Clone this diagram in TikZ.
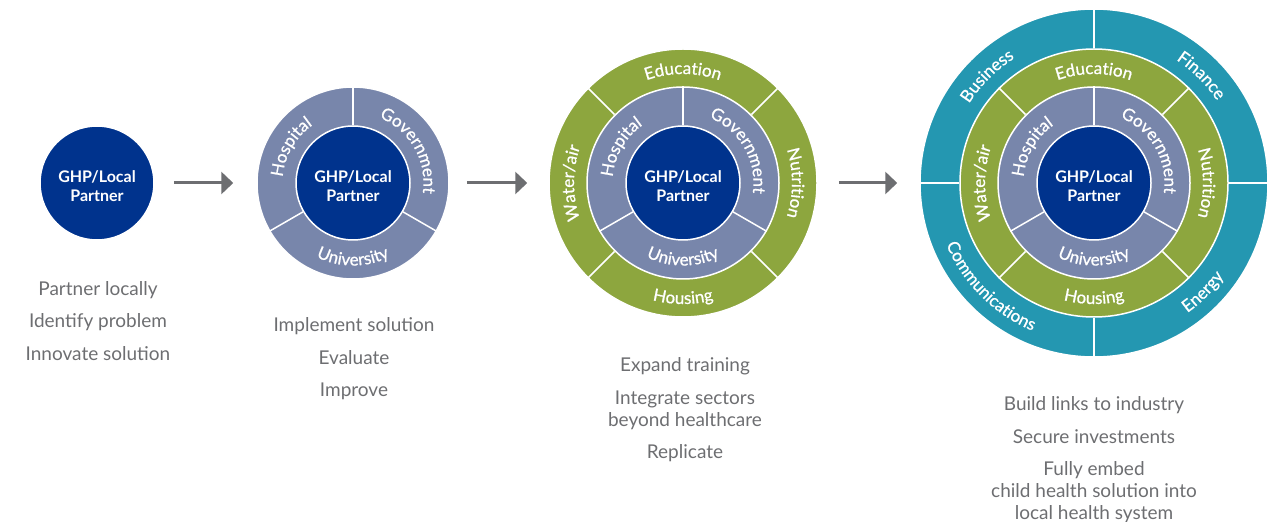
\documentclass[tikz,border=0pt]{standalone}
\usepackage{fontspec}
\setmainfont{Lato}
\newfontfamily\ringface{Lato}[FakeBold=0.8]
\usepackage{xcolor}
\usetikzlibrary{
		calc,
		positioning,
		arrows.meta,
		decorations.text
	}
\definecolor{ghpNavy}{HTML}{00338D}
\definecolor{ghpSlate}{HTML}{7886AB}
\definecolor{ghpGreen}{HTML}{8DA63E}
\definecolor{ghpTeal}{HTML}{2497B1}
\definecolor{ghpGray}{HTML}{6D6E71}
\newcommand{\ringfont}{\ringface\fontsize{17}{17}\selectfont}
\tikzset{
		hubtext/.style={text=white, align=center, yshift=-3pt, font=\bfseries\fontsize{16}{19}\selectfont},
		hub/.style={circle, fill=ghpNavy, draw=white, line width=1.5pt, minimum size=114pt, inner sep=0pt, label={[hubtext]center:{GHP/Local\\Partner}}},
		ring/.style={circle, draw=white, line width=1.5pt, minimum size=#1, inner sep=0pt},
		divider/.style={white, line width=1.5pt},
		flow/.style={ghpGray, line width=3pt, -{Triangle[length=12pt,width=22pt]}},
		steps/.style={text=ghpGray, align=center, anchor=north, inner sep=0pt, font=\fontsize{19}{22}\selectfont},
		arclabel/.style={decorate, decoration={text along path, text align=center, text color=white, text={|\ringfont|#1}}}
	}

\begin{document}
\begin{tikzpicture}[x=1pt, y=1pt]
		\useasboundingbox (0,0) rectangle (1277,522);
		% Stage 1
		\node[hub] (h1) at (97,339) {};
		% Stage 2
		\node[ring=192pt, fill=ghpSlate] (s2) at (353,339) {};
		\node[hub] (h2) at (353,339) {};
		\foreach \a in {90,210,330} {
			\draw[divider] (h2.\a) -- (s2.\a);
		}
		% Stage 3
		\node[ring=268pt, fill=ghpGreen] (g3) at (683,339) {};
		\node[ring=192pt, fill=ghpSlate] (s3) at (683,339) {};
		\node[hub] (h3) at (683,339) {};
		\foreach \a in {90,210,330} {
			\draw[divider] (h3.\a) -- (s3.\a);
		}
		\foreach \a in {45,135,225,315} {
			\draw[divider] (s3.\a) -- (g3.\a);
		}
		% Stage 4
		\node[ring=348pt, fill=ghpTeal] (t4) at (1094,339) {};
		\node[ring=268pt, fill=ghpGreen] (g4) at (1094,339) {};
		\node[ring=192pt, fill=ghpSlate] (s4) at (1094,339) {};
		\node[hub] (h4) at (1094,339) {};
		\foreach \a in {90,210,330} {
			\draw[divider] (h4.\a) -- (s4.\a);
		}
		\foreach \a in {45,135,225,315} {
			\draw[divider] (s4.\a) -- (g4.\a);
		}
		\foreach \a in {0,90,180,270} {
			\draw[divider] (g4.\a) -- (t4.\a);
		}
		% Ring labels
		\foreach \c in {h2,h3,h4} {
			\path[arclabel=Hospital] (\c.center) ++(210:70.5) arc[start angle=210, end angle=90, radius=70.5];
			\path[arclabel=Government] (\c.center) ++(90:70.5) arc[start angle=90, end angle=-30, radius=70.5];
			\path[arclabel=University] (\c.center) ++(210:82.5) arc[start angle=210, end angle=330, radius=82.5];
		}
		\foreach \c in {h3,h4} {
			\path[arclabel=Education] (\c.center) ++(135:109) arc[start angle=135, end angle=45, radius=109];
			\path[arclabel=Nutrition] (\c.center) ++(45:109) arc[start angle=45, end angle=-45, radius=109];
			\path[arclabel=Water/air] (\c.center) ++(225:109) arc[start angle=225, end angle=135, radius=109];
			\path[arclabel=Housing] (\c.center) ++(225:121) arc[start angle=225, end angle=315, radius=121];
		}
		\path[arclabel=Business] (h4.center) ++(180:148) arc[start angle=180, end angle=90, radius=148];
		\path[arclabel=Finance] (h4.center) ++(90:148) arc[start angle=90, end angle=0, radius=148];
		\path[arclabel=Communications] (h4.center) ++(180:160) arc[start angle=180, end angle=270, radius=160];
		\path[arclabel=Energy] (h4.center) ++(270:160) arc[start angle=270, end angle=360, radius=160];
		% Arrows
		\draw[flow, shorten <=19pt, shorten >=23pt] (h1) -- (s2);
		\draw[flow, shorten <=17pt, shorten >=21pt] (s2) -- (g3);
		\draw[flow, shorten <=21pt, shorten >=22pt] (g3) -- (t4);
		% Steps
		\node[steps] (c1) at (98,241) {Partner locally\\[10.5pt]Identify problem\\[10.5pt]Innovate solution};
		\node[steps] (c2) at (354,204.5) {Implement solution\\[10.5pt]Evaluate\\[10.5pt]Improve};
		\node[steps] (c3) at (685,164.5) {Expand training\\[10.5pt]Integrate sectors\\beyond healthcare\\[10.5pt]Replicate};
		\node[steps] (c4) at (1094,125.5) {Build links to industry\\[10.5pt]Secure investments\\[10.5pt]Fully embed\\child health solution into\\local health system};
	\end{tikzpicture}
\end{document}
